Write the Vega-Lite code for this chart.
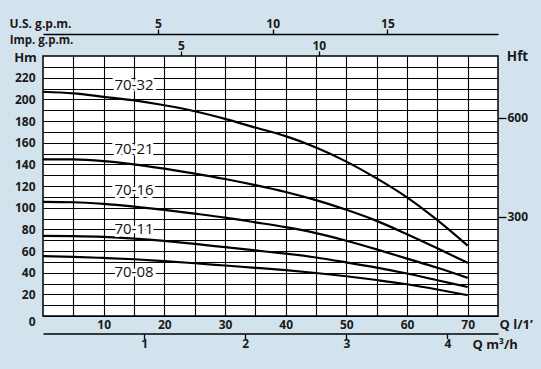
{
  "$schema": "https://vega.github.io/schema/vega-lite/v6.json",
  "width": 455,
  "height": 260,
  "autosize": "none",
  "padding": {"left": 43, "top": 56, "right": 43, "bottom": 53},
  "background": "#d3e3ee",
  "datasets": {
    "labels": [
      {"model": "70-32", "q": 15, "h": 213.4},
      {"model": "70-21", "q": 15, "h": 153.9},
      {"model": "70-16", "q": 15, "h": 116},
      {"model": "70-11", "q": 15, "h": 80.7},
      {"model": "70-08", "q": 15, "h": 40.4}
    ]
  },
  "config": {
    "view": {"fill": "white", "stroke": "black", "strokeWidth": 1.5},
    "font": "Open Sans",
    "axis": {
      "labelFont": "Open Sans",
      "labelFontWeight": "bold",
      "labelFontSize": 12,
      "labelColor": "#1a1a1a",
      "titleFont": "Open Sans",
      "titleFontWeight": "bold",
      "titleColor": "#1a1a1a",
      "labelFlush": false,
      "labelOverlap": false,
      "tickColor": "black",
      "domainColor": "black",
      "gridColor": "black",
      "gridOpacity": 1,
      "gridWidth": 1.1
    }
  },
  "resolve": {"scale": {"x": "independent", "y": "independent"}},
  "layer": [
    {
      "data": {
        "values": [
          {"model": "70-32", "q": 0, "h": 207}, {"model": "70-32", "q": 5, "h": 205.5}, {"model": "70-32", "q": 10, "h": 202.3}, {"model": "70-32", "q": 15, "h": 199}, {"model": "70-32", "q": 20, "h": 194.5}, {"model": "70-32", "q": 25, "h": 189}, {"model": "70-32", "q": 30, "h": 182}, {"model": "70-32", "q": 35, "h": 174}, {"model": "70-32", "q": 40, "h": 166}, {"model": "70-32", "q": 45, "h": 155.5}, {"model": "70-32", "q": 50, "h": 142.5}, {"model": "70-32", "q": 55, "h": 127}, {"model": "70-32", "q": 60, "h": 109.5}, {"model": "70-32", "q": 65, "h": 88.5}, {"model": "70-32", "q": 70, "h": 65},
          {"model": "70-21", "q": 0, "h": 144.6}, {"model": "70-21", "q": 5, "h": 144.5}, {"model": "70-21", "q": 10, "h": 143}, {"model": "70-21", "q": 15, "h": 140}, {"model": "70-21", "q": 20, "h": 136}, {"model": "70-21", "q": 25, "h": 131.5}, {"model": "70-21", "q": 30, "h": 126.5}, {"model": "70-21", "q": 35, "h": 120.8}, {"model": "70-21", "q": 40, "h": 114.5}, {"model": "70-21", "q": 45, "h": 107}, {"model": "70-21", "q": 50, "h": 98}, {"model": "70-21", "q": 55, "h": 87.8}, {"model": "70-21", "q": 60, "h": 75.5}, {"model": "70-21", "q": 65, "h": 62.5}, {"model": "70-21", "q": 70, "h": 49},
          {"model": "70-16", "q": 0, "h": 105.3}, {"model": "70-16", "q": 5, "h": 105}, {"model": "70-16", "q": 10, "h": 103.5}, {"model": "70-16", "q": 15, "h": 101}, {"model": "70-16", "q": 20, "h": 98}, {"model": "70-16", "q": 25, "h": 94.5}, {"model": "70-16", "q": 30, "h": 90.8}, {"model": "70-16", "q": 35, "h": 86.5}, {"model": "70-16", "q": 40, "h": 82}, {"model": "70-16", "q": 45, "h": 76.5}, {"model": "70-16", "q": 50, "h": 69.5}, {"model": "70-16", "q": 55, "h": 61.5}, {"model": "70-16", "q": 60, "h": 53}, {"model": "70-16", "q": 65, "h": 44.5}, {"model": "70-16", "q": 70, "h": 35.2},
          {"model": "70-11", "q": 0, "h": 73.9}, {"model": "70-11", "q": 5, "h": 73.7}, {"model": "70-11", "q": 10, "h": 73}, {"model": "70-11", "q": 15, "h": 71.5}, {"model": "70-11", "q": 20, "h": 69.3}, {"model": "70-11", "q": 25, "h": 66.5}, {"model": "70-11", "q": 30, "h": 63.5}, {"model": "70-11", "q": 35, "h": 60.5}, {"model": "70-11", "q": 40, "h": 57.5}, {"model": "70-11", "q": 45, "h": 54}, {"model": "70-11", "q": 50, "h": 49.5}, {"model": "70-11", "q": 55, "h": 44.7}, {"model": "70-11", "q": 60, "h": 39.2}, {"model": "70-11", "q": 65, "h": 33}, {"model": "70-11", "q": 70, "h": 26.8},
          {"model": "70-08", "q": 0, "h": 55.2}, {"model": "70-08", "q": 5, "h": 54.6}, {"model": "70-08", "q": 10, "h": 53.6}, {"model": "70-08", "q": 15, "h": 52.4}, {"model": "70-08", "q": 20, "h": 50.7}, {"model": "70-08", "q": 25, "h": 48.7}, {"model": "70-08", "q": 30, "h": 46.6}, {"model": "70-08", "q": 35, "h": 44.5}, {"model": "70-08", "q": 40, "h": 42.3}, {"model": "70-08", "q": 45, "h": 39.7}, {"model": "70-08", "q": 50, "h": 36.7}, {"model": "70-08", "q": 55, "h": 33.2}, {"model": "70-08", "q": 60, "h": 29.3}, {"model": "70-08", "q": 65, "h": 24.5}, {"model": "70-08", "q": 70, "h": 19.2}
        ]
      },
      "mark": {"type": "line", "color": "black", "strokeWidth": 2.2, "interpolate": "monotone"},
      "encoding": {
        "detail": {"field": "model", "type": "nominal"},
        "x": {
          "field": "q", "type": "quantitative",
          "scale": {"domain": [0, 75], "nice": false, "zero": true},
          "axis": {
            "orient": "bottom",
            "values": [5, 10, 15, 20, 25, 30, 35, 40, 45, 50, 55, 60, 65, 70],
            "labelExpr": "datum.value % 10 === 0 ? datum.label : ''",
            "grid": true, "ticks": false, "domain": false, "tickSize": 0,
            "labelPadding": 3,
            "title": "Q l/1’", "titleFontSize": 13,
            "titleX": 456, "titleY": 8, "titleAlign": "left", "titleBaseline": "middle"
          }
        },
        "y": {
          "field": "h", "type": "quantitative",
          "scale": {"domain": [0, 240], "nice": false, "zero": true},
          "axis": {
            "values": [0, 10, 20, 30, 40, 50, 60, 70, 80, 90, 100, 110, 120, 130, 140, 150, 160, 170, 180, 190, 200, 210, 220, 230],
            "labelExpr": "datum.value % 20 === 0 ? datum.label : ''",
            "labelBaseline": {"condition": {"test": "datum.value === 0", "value": "top"}, "value": "middle"},
            "grid": true, "ticks": false, "domain": false, "tickSize": 0,
            "labelPadding": 8,
            "title": "Hm", "titleFontSize": 13, "titleAngle": 0,
            "titleX": -18, "titleY": 1, "titleAlign": "center", "titleBaseline": "middle"
          }
        }
      }
    },
    {
      "data": {"name": "labels"},
      "mark": {"type": "text", "font": "Open Sans", "fontSize": 15, "stroke": "white", "strokeWidth": 6, "strokeJoin": "round", "fill": "white", "baseline": "middle", "align": "center"},
      "encoding": {
        "x": {"field": "q", "type": "quantitative", "scale": {"domain": [0, 75], "nice": false, "zero": true}, "axis": null},
        "y": {"field": "h", "type": "quantitative", "scale": {"domain": [0, 240], "nice": false, "zero": true}, "axis": null},
        "text": {"field": "model", "type": "nominal"}
      }
    },
    {
      "data": {"name": "labels"},
      "mark": {"type": "text", "font": "Open Sans", "fontSize": 15, "color": "#111111", "baseline": "middle", "align": "center"},
      "encoding": {
        "x": {"field": "q", "type": "quantitative", "scale": {"domain": [0, 75], "nice": false, "zero": true}, "axis": null},
        "y": {"field": "h", "type": "quantitative", "scale": {"domain": [0, 240], "nice": false, "zero": true}, "axis": null},
        "text": {"field": "model", "type": "nominal"}
      }
    },
    {
      "data": {"values": [{"usgpm": 5}, {"usgpm": 10}, {"usgpm": 15}]},
      "mark": {"type": "rule", "opacity": 0},
      "encoding": {
        "x": {
          "field": "usgpm", "type": "quantitative",
          "scale": {"domain": [0, 19.813], "nice": false, "zero": true},
          "axis": {
            "orient": "top", "offset": 22, "values": [5, 10, 15],
            "grid": false, "domain": true, "domainWidth": 1.3, "ticks": true, "tickSize": 5, "tickWidth": 1.3,
            "labelPadding": -1.5,
            "title": "U.S. g.p.m.", "titleFontSize": 12,
            "titleX": -3, "titleY": -10.5, "titleAlign": "center", "titleBaseline": "middle"
          }
        }
      }
    },
    {
      "data": {"values": [{"impgpm": 5}, {"impgpm": 10}]},
      "mark": {"type": "rule", "opacity": 0},
      "encoding": {
        "x": {
          "field": "impgpm", "type": "quantitative",
          "scale": {"domain": [0, 16.498], "nice": false, "zero": true},
          "axis": {
            "orient": "top", "offset": 0, "values": [5, 10],
            "grid": false, "domain": false, "ticks": true, "tickSize": 5, "tickWidth": 1.3,
            "labelPadding": -1.5,
            "title": "Imp. g.p.m.", "titleFontSize": 11.5,
            "titleX": -2, "titleY": -15.5, "titleAlign": "center", "titleBaseline": "middle"
          }
        }
      }
    },
    {
      "data": {"values": [{"m3h": 1}, {"m3h": 2}, {"m3h": 3}, {"m3h": 4}]},
      "mark": {"type": "rule", "opacity": 0},
      "encoding": {
        "x": {
          "field": "m3h", "type": "quantitative",
          "scale": {"domain": [0, 4.5], "nice": false, "zero": true},
          "axis": {
            "orient": "bottom", "offset": 17.5, "values": [1, 2, 3, 4],
            "grid": false, "domain": true, "domainWidth": 1.3, "ticks": true, "tickSize": 5, "tickWidth": 1.3,
            "labelPadding": 0,
            "title": "Q m³/h", "titleFontSize": 13,
            "titleX": 429, "titleY": 10.5, "titleAlign": "left", "titleBaseline": "middle"
          }
        }
      }
    },
    {
      "data": {"values": [{"hft": 300}, {"hft": 600}]},
      "mark": {"type": "rule", "opacity": 0},
      "encoding": {
        "y": {
          "field": "hft", "type": "quantitative",
          "scale": {"domain": [0, 787.4], "nice": false, "zero": true},
          "axis": {
            "orient": "right", "values": [300, 600],
            "grid": false, "domain": false, "ticks": true, "tickSize": 8, "tickWidth": 1.3,
            "labelPadding": 1,
            "title": "Hft", "titleFontSize": 13.5, "titleAngle": 0,
            "titleX": 19, "titleY": 0, "titleAlign": "center", "titleBaseline": "middle"
          }
        }
      }
    }
  ]
}
